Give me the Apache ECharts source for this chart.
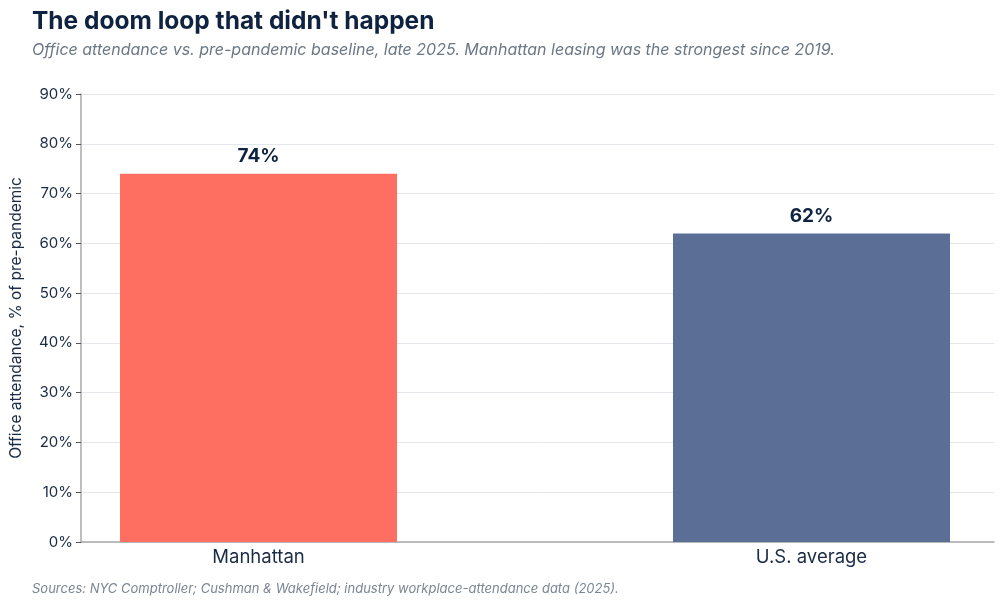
<!DOCTYPE html>
<html>
<head>
<meta charset="utf-8">
<script src="https://cdn.jsdelivr.net/npm/echarts@6/dist/echarts.min.js"></script>
<style>
  html, body { margin: 0; padding: 0; background: #fff; }
  #chart { width: 1000px; height: 614px; }
</style>
</head>
<body>
<div id="chart"></div>
<script>
// data
var categories = ['Manhattan', 'U.S. average'];
var attendance = [74, 62];
var barColors = ['#FF6F61', '#5A6E96'];
var yTicks = [0, 10, 20, 30, 40, 50, 60, 70, 80, 90];

var chart = echarts.init(document.getElementById('chart'));

// bars sit on a numeric x axis (0, 1) so the side padding can match the original
var barData = attendance.map(function (v, i) {
  return { value: [i, v], itemStyle: { color: barColors[i] } };
});

var option = {
  animation: false,
  textStyle: { fontFamily: 'Inter' },
  title: [
    {
      text: "The doom loop that didn't happen",
      left: 27, top: 4,
      textStyle: { fontSize: 24.5, fontWeight: 'bold', color: '#0F2340', fontFamily: 'Inter' }
    },
    {
      text: 'Office attendance vs. pre-pandemic baseline, late 2025. Manhattan leasing was the strongest since 2019.',
      left: 27, top: 37,
      textStyle: { fontSize: 16, fontStyle: 'italic', fontWeight: 'normal', color: '#6B7785', fontFamily: 'Inter' }
    },
    {
      text: 'Sources: NYC Comptroller; Cushman & Wakefield; industry workplace-attendance data (2025).',
      left: 27, top: 578,
      textStyle: { fontSize: 13, fontStyle: 'italic', fontWeight: 'normal', color: '#7A8694', fontFamily: 'Inter' }
    }
  ],
  grid: {
    left: 78,
    right: 6,
    top: 94,
    bottom: 72
  },
  xAxis: {
    type: 'value',
    min: -0.321,
    max: 1.33,
    splitLine: { show: false },
    axisLine: { show: true, onZero: false, lineStyle: { color: '#A8A8A8', width: 1.5 } },
    axisTick: { show: false },
    axisLabel: {
      fontSize: 18.5,
      color: '#1A2B45',
      margin: 6,
      customValues: [0, 1],
      formatter: function (v) { return categories[Math.round(v)]; }
    }
  },
  yAxis: {
    type: 'value',
    min: 0,
    max: 90,
    interval: 10,
    name: 'Office attendance, % of pre-pandemic',
    nameLocation: 'middle',
    nameGap: 57,
    nameTextStyle: { fontSize: 15.5, color: '#1A2B45' },
    axisLine: { show: true, onZero: false, lineStyle: { color: '#A8A8A8', width: 1.5 } },
    axisTick: { show: true, length: 5, lineStyle: { color: '#555' }, customValues: yTicks },
    axisLabel: { fontSize: 15, color: '#1A2B45', formatter: '{value}%', margin: 8, customValues: yTicks },
    splitLine: { lineStyle: { color: '#E3E6EA', width: 1 } }
  },
  series: [{
    type: 'bar',
    barWidth: 277,
    data: barData,
    label: {
      show: true,
      position: 'top',
      distance: 8,
      formatter: function (p) { return p.value[1] + '%'; },
      fontSize: 19,
      fontWeight: 'bold',
      color: '#0F2340'
    }
  }]
};

chart.setOption(option);
</script>
</body>
</html>
